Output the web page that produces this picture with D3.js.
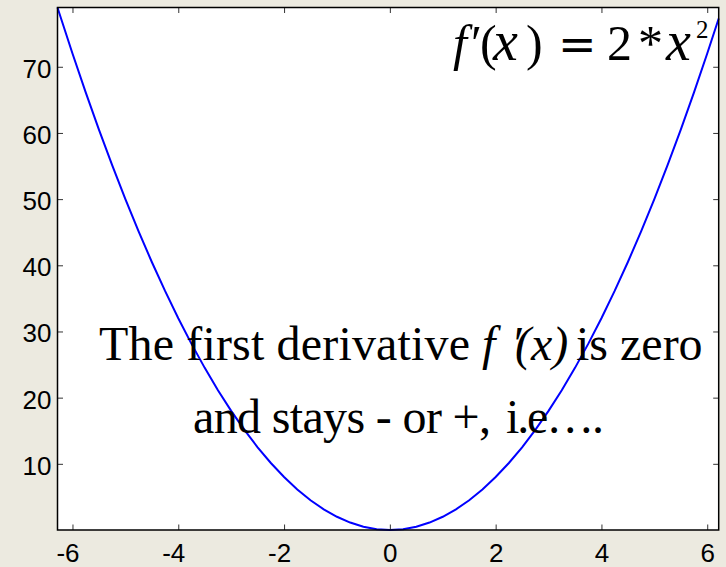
<!DOCTYPE html>
<html>
<head>
<meta charset="utf-8">
<script src="https://cdn.jsdelivr.net/npm/d3@7"></script>
<style>
  html, body { margin: 0; padding: 0; background: #ECEAE0; }
  svg { display: block; }
</style>
</head>
<body>
<svg id="chart" width="726" height="567"></svg>
<script>
// Samples of f'(x) = 2*x^2 over the plotted range
const xValues = [-6.283, -6.25, -6.0, -5.75, -5.5, -5.25, -5.0, -4.75, -4.5, -4.25, -4.0, -3.75, -3.5, -3.25, -3.0, -2.75, -2.5, -2.25, -2.0, -1.75, -1.5, -1.25, -1.0, -0.75, -0.5, -0.25, 0.0,
                 0.25, 0.5, 0.75, 1.0, 1.25, 1.5, 1.75, 2.0, 2.25, 2.5, 2.75, 3.0, 3.25, 3.5, 3.75, 4.0, 4.25, 4.5, 4.75, 5.0, 5.25, 5.5, 5.75, 6.0, 6.217];
const yValues = [78.95, 78.125, 72, 66.125, 60.5, 55.125, 50, 45.125, 40.5, 36.125, 32, 28.125, 24.5, 21.125, 18, 15.125, 12.5, 10.125, 8, 6.125, 4.5, 3.125, 2, 1.125, 0.5, 0.125, 0,
                 0.125, 0.5, 1.125, 2, 3.125, 4.5, 6.125, 8, 10.125, 12.5, 15.125, 18, 21.125, 24.5, 28.125, 32, 36.125, 40.5, 45.125, 50, 55.125, 60.5, 66.125, 72, 77.30];
const xDomain = [-6.2832, 6.2168];
const yDomain = [0, 78.957];
const xTicks = [-6, -4, -2, 0, 2, 4, 6];
const yTicks = [10, 20, 30, 40, 50, 60, 70];

const svg = d3.select("#chart");
const box = { left: 57.5, right: 718.7, top: 7.5, bottom: 530 };

const x = d3.scaleLinear().domain(xDomain).range([box.left, box.right]);
const y = d3.scaleLinear().domain(yDomain).range([box.bottom, box.top]);

// white plotting area
svg.append("rect")
  .attr("x", box.left).attr("y", box.top)
  .attr("width", box.right - box.left).attr("height", box.bottom - box.top)
  .attr("fill", "#fff");

const tickLen = 5.5;
const tickFont = "'Liberation Sans', Arial, sans-serif";

// bottom axis: inward ticks, labels below
const bottomAxis = d3.axisBottom(x).tickValues(xTicks).tickSizeInner(-tickLen).tickSizeOuter(0).tickPadding(14)
  .tickFormat(d => d < 0 ? "-" + Math.abs(d) : String(d));
const gb = svg.append("g").attr("transform", `translate(0,${box.bottom})`).call(bottomAxis);
gb.select(".domain").remove();
gb.selectAll(".tick line").attr("stroke", "#333").attr("stroke-width", 1);
gb.selectAll(".tick text")
  .attr("font-family", tickFont).attr("font-size", 26).attr("fill", "#000")
  .attr("dx", d => d < 0 ? -5 : 0);

// top axis: ticks only
const gt = svg.append("g").attr("transform", `translate(0,${box.top})`)
  .call(d3.axisTop(x).tickValues(xTicks).tickSizeInner(-tickLen).tickSizeOuter(0).tickFormat(""));
gt.select(".domain").remove();
gt.selectAll(".tick line").attr("stroke", "#333").attr("stroke-width", 1);

// left axis: inward ticks, labels left
const gl = svg.append("g").attr("transform", `translate(${box.left},0)`)
  .call(d3.axisLeft(y).tickValues(yTicks).tickSizeInner(-tickLen).tickSizeOuter(0).tickPadding(6));
gl.select(".domain").remove();
gl.selectAll(".tick line").attr("stroke", "#333").attr("stroke-width", 1);
gl.selectAll(".tick text")
  .attr("font-family", tickFont).attr("font-size", 26).attr("fill", "#000")
  .attr("dy", "0.4em");

// right axis: ticks only
const gr = svg.append("g").attr("transform", `translate(${box.right},0)`)
  .call(d3.axisRight(y).tickValues(yTicks).tickSizeInner(-tickLen).tickSizeOuter(0).tickFormat(""));
gr.select(".domain").remove();
gr.selectAll(".tick line").attr("stroke", "#333").attr("stroke-width", 1);

// curve
const pts = xValues.map((v, i) => [v, yValues[i]]);
svg.append("path")
  .datum(pts)
  .attr("fill", "none")
  .attr("stroke", "#0000FF")
  .attr("stroke-width", 2)
  .attr("d", d3.line().x(d => x(d[0])).y(d => y(d[1])));

// axes box
svg.append("rect")
  .attr("x", box.left).attr("y", box.top)
  .attr("width", box.right - box.left).attr("height", box.bottom - box.top)
  .attr("fill", "none").attr("stroke", "#000").attr("stroke-width", 1.5);

const serif = "'Liberation Serif', 'Times New Roman', serif";

// formula in the top right corner, typeset glyph by glyph
const f = svg.append("text")
  .attr("y", 60)
  .attr("font-family", serif).attr("font-size", 50).attr("fill", "#000");
f.append("tspan").attr("x", 453).attr("font-style", "italic").text("f");
f.append("tspan").attr("x", 471).text("\u2032");
f.append("tspan").attr("x", 480).text("(");
f.append("tspan").attr("x", 493).attr("font-style", "italic").attr("font-size", 56).text("x");
f.append("tspan").attr("x", 526).text(")");
f.append("tspan").attr("x", 558).attr("font-family", "'DejaVu Serif', serif").attr("font-size", 46).text("=");
f.append("tspan").attr("x", 607).text("2");
f.append("tspan").attr("x", 638).attr("font-size", 50).text("*");
f.append("tspan").attr("x", 666).attr("font-style", "italic").attr("font-size", 56).text("x");
f.append("tspan").attr("x", 696).attr("y", 38).attr("font-size", 25).text("2");

// annotation, first line
const t1 = svg.append("text")
  .attr("y", 360)
  .attr("font-family", serif).attr("font-size", 48).attr("fill", "#000");
t1.append("tspan").attr("x", 99).attr("textLength", 371).attr("lengthAdjust", "spacing").text("The first derivative");
t1.append("tspan").attr("x", 482).attr("font-style", "italic").text("f");
t1.append("tspan").attr("x", 511).attr("font-style", "italic").text("\u2032");
t1.append("tspan").attr("x", 515).attr("font-style", "italic").text("(x)");
t1.append("tspan").attr("x", 576).text("is zero");

// annotation, second line
const t2 = svg.append("text")
  .attr("y", 433)
  .attr("font-family", serif).attr("font-size", 48).attr("fill", "#000");
t2.append("tspan").attr("x", 193).attr("textLength", 298).attr("lengthAdjust", "spacing").text("and stays - or +,");
t2.append("tspan").attr("x", 506).attr("textLength", 98).attr("lengthAdjust", "spacing").text("i.e\u2026.");
</script>
</body>
</html>
